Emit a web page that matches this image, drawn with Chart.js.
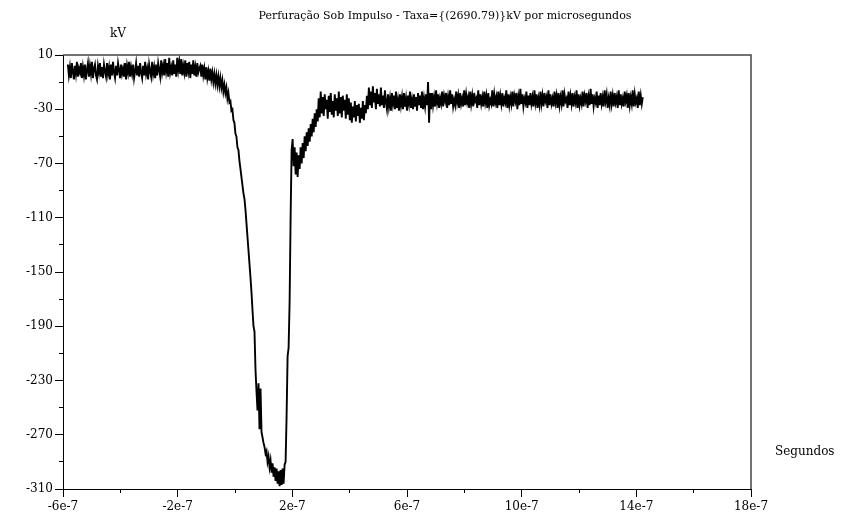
<!DOCTYPE html>
<html><head><meta charset="utf-8">
<script src="https://cdn.jsdelivr.net/npm/chart.js@4"></script>
<style>html,body{margin:0;padding:0;background:#fff}#wrap{width:852px;height:518px}</style>
</head><body><div id="wrap"><canvas id="c" width="852" height="518"></canvas></div>
<script>
const chartTitle = "Perfuração Sob Impulso - Taxa={(2690.79)}kV por microsegundos";
const yAxisTitle = "kV";
const xAxisTitle = "Segundos";
// time axis in units of 1e-7 s (oscilloscope sampling grid)
const sampleStart = -5.83;
const sampleStep = 0.035;
const voltage = [
3, -5, 1, -7, 4, -2, -8, 2, -4, 5, -6, 0,
-3, 4, -7, 1, -5, 3, -8, -1, 4, -6, 2, -4,
5, -7, 0, 3, -5, -8, 2, -3, 4, -6, 1, -7,
3, -2, -6, 4, -4, 1, -8, 3, -5, 5, -3, -7,
2, -5, 4, -1, -7, 3, -4, 0, -6, 4, -8, 2,
-3, 5, -6, 1, -4, 3, -7, -2, 4, -5, 2, -6,
4, -3, -7, 2, -5, 5, -4, 0, -8, 3, -2, -6,
5, -4, 1, -7, 3, -5, 4, -1, -6, 6, -3, 2,
-5, 7, -2, 4, -6, 8, -3, 1, -5, 6, -4, 3,
-6, 8, -1, 5, -4, 7, -5, 2, -3, 6, -6, 4,
-2, 5, -7, 3, -4, 6, -5, 1, -6, 4, -3, 0,
2, -6, 3, -5, 0, -8, 1, -7, -2, -9,
0, -8, -3, -10, -4, -11, -5, -12, -6, -13,
-7, -14, -9, -17, -12, -18, -14, -22, -18, -25,
-24, -31, -30, -38, -40, -48, -50, -58, -60, -68,
-74, -80, -86, -92, -96, -104, -114, -124, -134, -144,
-154, -165, -178, -190, -194, -222, -238, -252, -232, -266,
-236, -268, -272, -276, -279, -284, -282, -290, -286, -294,
-289, -298, -291, -301, -294, -304, -295, -306, -297, -308,
-296, -307, -295, -306, -292, -290, -256, -212, -206, -172,
-110, -60,
-52, -72, -58, -78, -62, -80, -64, -74, -58, -70,
-55, -66, -50, -61, -47, -57, -44, -54, -41, -50,
-37, -47, -33, -43, -30, -39, -22, -36, -17, -33,
-21, -35, -19, -30, -23, -37, -20, -32, -18, -34,
-24, -36, -19, -31, -22, -35, -17, -33, -21, -36,
-20, -31, -23, -37, -19, -34, -22,
-38, -25, -40, -28, -36, -24, -39, -27, -35, -26, -40, -29, -37, -24, -38, -27, -33,
-20, -30, -14, -27, -17, -29, -13, -25, -18, -30,
-15, -26, -19, -28, -14, -27, -20, -29, -16, -25,
-30, -19, -28, -22, -31, -18, -26, -20, -30, -17,
-29, -23, -31, -19, -27, -21, -30, -18, -28, -22,
-31, -20, -26, -17, -29, -23, -30, -19, -28, -21,
-31, -18, -27, -20, -29, -17, -30, -22, -28, -19,
-27,
-10, -40, -18, -30,
-18, -27, -21, -28, -16, -25, -19, -29, -22, -26,
-17, -28, -20, -24, -18, -29, -21, -27, -16, -26,
-19, -28, -23, -27, -17, -25, -20, -29, -18, -26,
-22, -28, -16, -27, -19, -25, -21, -29, -17, -26,
-20, -28, -18, -24, -22, -29, -16, -27, -19, -26,
-21, -28, -17, -25, -20, -29, -18, -27, -23, -26,
-16, -28, -19, -25, -21, -29, -17, -27, -20, -26,
-18, -28, -22, -25, -16, -29, -19, -27, -21, -26,
-17, -28, -20, -24, -18, -30, -21, -27, -15, -26,
-19, -28, -22, -25, -17, -29, -20, -27, -18, -26,
-21, -28, -16, -25, -19, -29, -22, -27, -17, -26,
-20, -28, -18, -24, -21, -29, -16, -27, -19, -26,
-22, -28, -17, -25, -20, -29, -18, -27, -21, -26,
-16, -28, -19, -24, -22, -29, -17, -27, -20, -26,
-18, -28, -21, -25, -16, -29, -19, -27, -22, -26,
-17, -28, -20, -24, -18, -29, -21, -27, -15, -26,
-19, -28, -22, -25, -17, -29, -20, -27, -18, -26,
-21, -28, -16, -24, -19, -29, -22, -27, -17, -26,
-20, -28, -18, -25, -21, -29, -16, -27, -19, -26,
-22, -28, -17, -24, -20, -29, -18, -27, -21, -26,
-16, -28, -19, -25, -22, -29, -17, -27, -20, -26,
-21
];
const xRange = [-6, 18];
const xMajorStep = 4, xMinorStep = 2;
const yRange = [-310, 10];
const yMajorStep = 40, yMinorStep = 20;

const points = voltage.map((v, i) => ({ x: sampleStart + i * sampleStep, y: v }));

const tickFont = { family: 'DejaVu Serif', size: 12 };

const annot = {
  id: 'annot',
  afterDraw(chart) {
    const { ctx, chartArea: a } = chart;
    ctx.save();
    ctx.strokeStyle = '#444'; ctx.lineWidth = 1.5;
    ctx.beginPath(); ctx.moveTo(a.left, a.top); ctx.lineTo(a.right, a.top); ctx.lineTo(a.right, a.bottom); ctx.stroke();
    ctx.fillStyle = '#000'; ctx.textBaseline = 'middle';
    ctx.font = '11px "DejaVu Serif"'; ctx.textAlign = 'center';
    ctx.fillText(chartTitle, 445, 16);
    ctx.font = '12px "DejaVu Serif"';
    ctx.fillText(yAxisTitle, a.left + 55, 34);
    ctx.textAlign = 'left';
    ctx.fillText(xAxisTitle, a.right + 24, 452);
    ctx.restore();
  }
};

new Chart(document.getElementById('c'), {
  type: 'line',
  data: { datasets: [{ data: points, borderColor: '#000', borderWidth: 1.9, pointRadius: 0, tension: 0, fill: false, xAxisID: 'x', yAxisID: 'y' }] },
  options: {
    responsive: false, animation: false,
    layout: { padding: { top: 55, right: 101, bottom: 0, left: 0 } },
    plugins: { legend: { display: false }, title: { display: false }, tooltip: { enabled: false } },
    scales: {
      x: { type: 'linear', position: 'bottom', min: xRange[0], max: xRange[1], weight: 1,
        ticks: { stepSize: xMajorStep, autoSkip: false, maxRotation: 0, color: '#000', font: tickFont, padding: 3, callback: v => v + 'e-7' },
        grid: { drawOnChartArea: false, drawTicks: true, tickLength: 8, color: '#000', tickColor: '#000' },
        border: { display: true, color: '#000', width: 1 },
        afterFit(s) { s.height = 29; } },
      xMinor: { type: 'linear', position: 'bottom', min: xRange[0], max: xRange[1], weight: 0,
        ticks: { stepSize: xMinorStep, autoSkip: false, callback: () => '' },
        grid: { drawOnChartArea: false, drawTicks: true, tickLength: 4, color: '#000', tickColor: '#000' },
        border: { display: false },
        afterFit(s) { s.height = 0; } },
      y: { type: 'linear', position: 'left', min: yRange[0], max: yRange[1], weight: 1,
        ticks: { stepSize: yMajorStep, autoSkip: false, color: '#000', font: tickFont, padding: 2 },
        grid: { drawOnChartArea: false, drawTicks: true, tickLength: 8, color: '#000', tickColor: '#000' },
        border: { display: true, color: '#000', width: 1 },
        afterFit(s) { s.width = 63; } },
      yMinor: { type: 'linear', position: 'left', min: yRange[0], max: yRange[1], weight: 0,
        ticks: { stepSize: yMinorStep, autoSkip: false, callback: () => '' },
        grid: { drawOnChartArea: false, drawTicks: true, tickLength: 4, color: '#000', tickColor: '#000' },
        border: { display: false },
        afterFit(s) { s.width = 0; } }
    }
  },
  plugins: [annot]
});
</script></body></html>
